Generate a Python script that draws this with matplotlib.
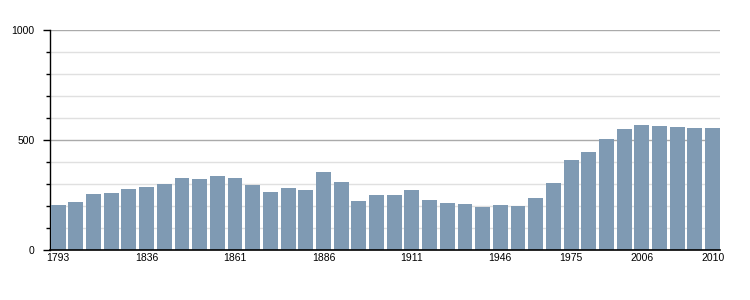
import matplotlib
matplotlib.use('Agg')
import matplotlib.pyplot as plt
from matplotlib.ticker import MultipleLocator

# census years and population
years = [1793, 1800, 1806, 1821, 1831, 1836, 1841, 1846, 1851, 1856,
         1861, 1866, 1872, 1876, 1881, 1886, 1891, 1896, 1901, 1906,
         1911, 1921, 1926, 1931, 1936, 1946, 1954, 1962, 1968, 1975,
         1982, 1990, 1999, 2006, 2007, 2008, 2009, 2010]
population = [205, 218, 254, 259, 277, 286, 300, 327, 323, 336,
              327, 295, 264, 282, 273, 355, 309, 223, 250, 250,
              273, 227, 214, 209, 195, 205, 200, 236, 305, 409,
              445, 505, 550, 568, 564, 559, 555, 555]
labelled_years = [1793, 1836, 1861, 1886, 1911, 1946, 1975, 2006, 2010]

plt.rcParams['font.family'] = ['Liberation Sans', 'DejaVu Sans']

fig = plt.figure(figsize=(7.5, 3), dpi=100)
ax = fig.add_axes([50 / 750, 50 / 300, 670 / 750, 220 / 300])

x = list(range(len(years)))
ax.bar(x, population, width=0.84, color='#7f9ab3', zorder=3)

ax.set_xlim(-0.46, len(years) - 0.58)
ax.set_ylim(0, 1000)

# gridlines: light every 100, darker at 500
ax.yaxis.set_major_locator(MultipleLocator(500))
ax.yaxis.set_minor_locator(MultipleLocator(100))
ax.grid(axis='y', which='minor', color='#e0e0e0', linewidth=1, zorder=0)
ax.grid(axis='y', which='major', color='#aaaaaa', linewidth=1, zorder=1)
ax.grid(axis='x', visible=False)

ax.set_yticks([0, 500, 1000])
ax.set_yticklabels(['0', '500', '1000'])
ax.tick_params(axis='y', which='major', length=5, width=1, labelsize=7.5, pad=6)
ax.tick_params(axis='y', which='minor', length=3, width=1)

tick_pos = [years.index(y) for y in labelled_years]
ax.set_xticks(tick_pos)
ax.set_xticklabels([str(y) for y in labelled_years])
ax.tick_params(axis='x', length=0, labelsize=7.5, pad=2)

for s in ['top', 'right']:
    ax.spines[s].set_visible(False)
ax.spines['left'].set_color('black')
ax.spines['bottom'].set_color('black')
ax.spines['left'].set_linewidth(1)
ax.spines['bottom'].set_linewidth(1.2)
ax.spines['bottom'].set_zorder(4)

fig.savefig('out.png', dpi=100)
